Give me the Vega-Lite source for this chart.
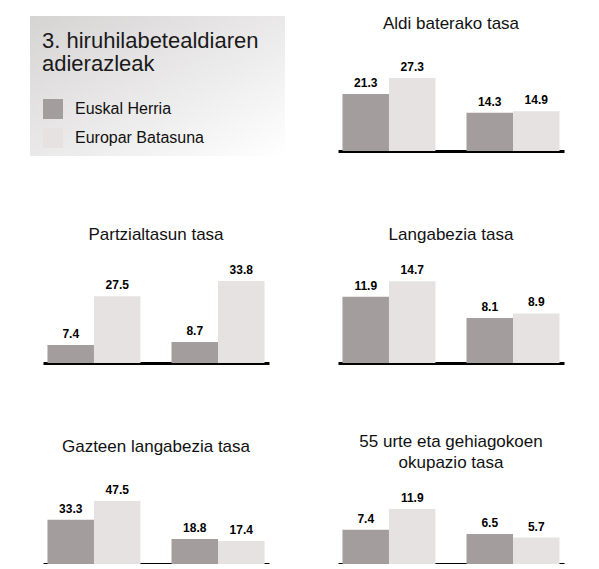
{
  "$schema": "https://vega.github.io/schema/vega-lite/v6.json",
  "background": "white",
  "padding": {"left": 30, "top": 15, "right": 5, "bottom": 0},
  "datasets": {
    "bars": [
      {"ind": "Aldi baterako tasa", "grp": "Gizonak", "ser": "Euskal Herria", "v": 21.3},
      {"ind": "Aldi baterako tasa", "grp": "Gizonak", "ser": "Europar Batasuna", "v": 27.3},
      {"ind": "Aldi baterako tasa", "grp": "Emakumeak", "ser": "Euskal Herria", "v": 14.3},
      {"ind": "Aldi baterako tasa", "grp": "Emakumeak", "ser": "Europar Batasuna", "v": 14.9},
      {"ind": "Partzialtasun tasa", "grp": "Gizonak", "ser": "Euskal Herria", "v": 7.4},
      {"ind": "Partzialtasun tasa", "grp": "Gizonak", "ser": "Europar Batasuna", "v": 27.5},
      {"ind": "Partzialtasun tasa", "grp": "Emakumeak", "ser": "Euskal Herria", "v": 8.7},
      {"ind": "Partzialtasun tasa", "grp": "Emakumeak", "ser": "Europar Batasuna", "v": 33.8},
      {"ind": "Langabezia tasa", "grp": "Gizonak", "ser": "Euskal Herria", "v": 11.9},
      {"ind": "Langabezia tasa", "grp": "Gizonak", "ser": "Europar Batasuna", "v": 14.7},
      {"ind": "Langabezia tasa", "grp": "Emakumeak", "ser": "Euskal Herria", "v": 8.1},
      {"ind": "Langabezia tasa", "grp": "Emakumeak", "ser": "Europar Batasuna", "v": 8.9},
      {"ind": "Gazteen langabezia tasa", "grp": "Gizonak", "ser": "Euskal Herria", "v": 33.3},
      {"ind": "Gazteen langabezia tasa", "grp": "Gizonak", "ser": "Europar Batasuna", "v": 47.5},
      {"ind": "Gazteen langabezia tasa", "grp": "Emakumeak", "ser": "Euskal Herria", "v": 18.8},
      {"ind": "Gazteen langabezia tasa", "grp": "Emakumeak", "ser": "Europar Batasuna", "v": 17.4},
      {"ind": "55 urte eta gehiagokoen okupazio tasa", "grp": "Gizonak", "ser": "Euskal Herria", "v": 7.4},
      {"ind": "55 urte eta gehiagokoen okupazio tasa", "grp": "Gizonak", "ser": "Europar Batasuna", "v": 11.9},
      {"ind": "55 urte eta gehiagokoen okupazio tasa", "grp": "Emakumeak", "ser": "Euskal Herria", "v": 6.5},
      {"ind": "55 urte eta gehiagokoen okupazio tasa", "grp": "Emakumeak", "ser": "Europar Batasuna", "v": 5.7}
    ],
    "titlelines": [
      {"k": "t1", "label": "3. hiruhilabetealdiaren"},
      {"k": "t2", "label": "adierazleak"}
    ],
    "legendrows": [
      {"k": "l1", "label": "Euskal Herria"},
      {"k": "l2", "label": "Europar Batasuna"}
    ],
    "box": [{"part": "background"}]
  },
  "data": {"name": "bars"},
  "config": {
    "view": {"stroke": null},
    "font": "Liberation Sans",
    "title": {"fontSize": 17, "fontWeight": "normal", "offset": 11, "color": "#111111", "font": "Liberation Sans"}
  },
  "spacing": 70,
  "align": "none",
  "vconcat": [
    {
      "spacing": 53,
      "align": "none",
      "hconcat": [
        {
          "width": 242,
          "height": 112,
          "resolve": {"scale": {"x": "independent", "y": "independent"}},
          "layer": [
            {
              "data": {"name": "box"},
              "mark": {"type": "rect", "color": {"gradient": "linear", "x1": 0, "y1": 0, "x2": 1, "y2": 1, "stops": [{"offset": 0, "color": "#d6d3d3"}, {"offset": 0.6, "color": "#eeeded"}, {"offset": 1, "color": "#ffffff"}]}},
              "encoding": {
                "x": {"datum": -0.0537, "type": "quantitative", "scale": {"domain": [0, 1], "nice": false, "zero": false}, "axis": null},
                "x2": {"datum": 1},
                "y": {"datum": 0, "type": "quantitative", "scale": {"domain": [0, 1], "nice": false, "zero": false}, "axis": null},
                "y2": {"datum": 1.25}
              }
            },
            {
              "data": {"name": "titlelines"},
              "mark": {"type": "text", "align": "left", "baseline": "middle", "fontSize": 22, "color": "#1a1a1a"},
              "encoding": {
                "x": {"datum": "title", "type": "nominal", "scale": {"type": "point", "padding": 0, "domain": ["title", "swatch", "pad", "label"], "range": [-1, 32]}, "axis": null},
                "y": {"field": "k", "type": "nominal", "scale": {"type": "point", "padding": 0, "domain": ["t1", "t2"], "range": [-3, 20]}, "axis": null},
                "text": {"field": "label"}
              }
            },
            {
              "data": {"name": "legendrows"},
              "mark": {"type": "square", "size": 400, "opacity": 1, "filled": true},
              "encoding": {
                "x": {"datum": "swatch", "type": "nominal", "scale": {"type": "point", "padding": 0, "domain": ["title", "swatch", "pad", "label"], "range": [-1, 32]}, "axis": null},
                "y": {"field": "k", "type": "nominal", "scale": {"type": "point", "padding": 0, "domain": ["l1", "l2"], "range": [65, 94]}, "axis": null},
                "color": {"field": "label", "type": "nominal", "scale": {"domain": ["Euskal Herria", "Europar Batasuna"], "range": ["#a49d9d", "#e6e2e2"]}, "legend": null}
              }
            },
            {
              "data": {"name": "legendrows"},
              "mark": {"type": "text", "align": "left", "baseline": "middle", "fontSize": 16, "color": "#111111"},
              "encoding": {
                "x": {"datum": "label", "type": "nominal", "scale": {"type": "point", "padding": 0, "domain": ["title", "swatch", "pad", "label"], "range": [-1, 32]}, "axis": null},
                "y": {"field": "k", "type": "nominal", "scale": {"type": "point", "padding": 0, "domain": ["l1", "l2"], "range": [65, 94]}, "axis": null},
                "text": {"field": "label"}
              }
            }
          ]
        },
        {
          "title": {"text": "Aldi baterako tasa"},
          "width": 226,
          "height": 107,
          "transform": [{"filter": "datum.ind === 'Aldi baterako tasa'"}],
          "encoding": {
            "x": {"field": "grp", "type": "nominal", "sort": ["Gizonak", "Emakumeak"], "scale": {"paddingInner": 0.25, "paddingOuter": 0.036}, "axis": {"title": null, "labels": false, "ticks": false, "domainColor": "#000000", "domainWidth": 3}},
            "xOffset": {"field": "ser", "type": "nominal", "sort": ["Euskal Herria", "Europar Batasuna"], "scale": {"paddingInner": 0, "paddingOuter": 0}},
            "y": {"field": "v", "type": "quantitative", "scale": {"domain": [0, 40], "nice": false}, "axis": null}
          },
          "layer": [
            {"mark": {"type": "bar"}, "encoding": {"color": {"field": "ser", "type": "nominal", "scale": {"domain": ["Euskal Herria", "Europar Batasuna"], "range": ["#a59e9e", "#ebe7e7"]}, "legend": null}}},
            {"mark": {"type": "text", "baseline": "bottom", "dy": -4, "fontWeight": "bold", "fontSize": 12, "color": "#000000"}, "encoding": {"text": {"field": "v", "type": "quantitative", "format": ".1f"}}}
          ]
        }
      ]
    },
    {
      "spacing": 69,
      "align": "none",
      "hconcat": [
        {
          "title": {"text": "Partzialtasun tasa"},
          "width": 226,
          "height": 108,
          "transform": [{"filter": "datum.ind === 'Partzialtasun tasa'"}],
          "encoding": {
            "x": {"field": "grp", "type": "nominal", "sort": ["Gizonak", "Emakumeak"], "scale": {"paddingInner": 0.25, "paddingOuter": 0.036}, "axis": {"title": null, "labels": false, "ticks": false, "domainColor": "#000000", "domainWidth": 3}},
            "xOffset": {"field": "ser", "type": "nominal", "sort": ["Euskal Herria", "Europar Batasuna"], "scale": {"paddingInner": 0, "paddingOuter": 0}},
            "y": {"field": "v", "type": "quantitative", "scale": {"domain": [0, 44.5], "nice": false}, "axis": null}
          },
          "layer": [
            {"mark": {"type": "bar"}, "encoding": {"color": {"field": "ser", "type": "nominal", "scale": {"domain": ["Euskal Herria", "Europar Batasuna"], "range": ["#a59e9e", "#ebe7e7"]}, "legend": null}}},
            {"mark": {"type": "text", "baseline": "bottom", "dy": -4, "fontWeight": "bold", "fontSize": 12, "color": "#000000"}, "encoding": {"text": {"field": "v", "type": "quantitative", "format": ".1f"}}}
          ]
        },
        {
          "title": {"text": "Langabezia tasa"},
          "width": 226,
          "height": 108,
          "transform": [{"filter": "datum.ind === 'Langabezia tasa'"}],
          "encoding": {
            "x": {"field": "grp", "type": "nominal", "sort": ["Gizonak", "Emakumeak"], "scale": {"paddingInner": 0.25, "paddingOuter": 0.036}, "axis": {"title": null, "labels": false, "ticks": false, "domainColor": "#000000", "domainWidth": 3}},
            "xOffset": {"field": "ser", "type": "nominal", "sort": ["Euskal Herria", "Europar Batasuna"], "scale": {"paddingInner": 0, "paddingOuter": 0}},
            "y": {"field": "v", "type": "quantitative", "scale": {"domain": [0, 19.4], "nice": false}, "axis": null}
          },
          "layer": [
            {"mark": {"type": "bar"}, "encoding": {"color": {"field": "ser", "type": "nominal", "scale": {"domain": ["Euskal Herria", "Europar Batasuna"], "range": ["#a59e9e", "#ebe7e7"]}, "legend": null}}},
            {"mark": {"type": "text", "baseline": "bottom", "dy": -4, "fontWeight": "bold", "fontSize": 12, "color": "#000000"}, "encoding": {"text": {"field": "v", "type": "quantitative", "format": ".1f"}}}
          ]
        }
      ]
    },
    {
      "spacing": 69,
      "align": "none",
      "hconcat": [
        {
          "title": {"text": "Gazteen langabezia tasa", "offset": 27},
          "width": 226,
          "height": 81,
          "transform": [{"filter": "datum.ind === 'Gazteen langabezia tasa'"}],
          "encoding": {
            "x": {"field": "grp", "type": "nominal", "sort": ["Gizonak", "Emakumeak"], "scale": {"paddingInner": 0.25, "paddingOuter": 0.036}, "axis": {"title": null, "labels": false, "ticks": false, "domainColor": "#000000", "domainWidth": 3}},
            "xOffset": {"field": "ser", "type": "nominal", "sort": ["Euskal Herria", "Europar Batasuna"], "scale": {"paddingInner": 0, "paddingOuter": 0}},
            "y": {"field": "v", "type": "quantitative", "scale": {"domain": [0, 61.1], "nice": false}, "axis": null}
          },
          "layer": [
            {"mark": {"type": "bar"}, "encoding": {"color": {"field": "ser", "type": "nominal", "scale": {"domain": ["Euskal Herria", "Europar Batasuna"], "range": ["#a59e9e", "#ebe7e7"]}, "legend": null}}},
            {"mark": {"type": "text", "baseline": "bottom", "dy": -4, "fontWeight": "bold", "fontSize": 12, "color": "#000000"}, "encoding": {"text": {"field": "v", "type": "quantitative", "format": ".1f"}}}
          ]
        },
        {
          "title": {"text": ["55 urte eta gehiagokoen", "okupazio tasa"], "lineHeight": 21},
          "width": 226,
          "height": 81,
          "transform": [{"filter": "datum.ind === '55 urte eta gehiagokoen okupazio tasa'"}],
          "encoding": {
            "x": {"field": "grp", "type": "nominal", "sort": ["Gizonak", "Emakumeak"], "scale": {"paddingInner": 0.25, "paddingOuter": 0.036}, "axis": {"title": null, "labels": false, "ticks": false, "domainColor": "#000000", "domainWidth": 3}},
            "xOffset": {"field": "ser", "type": "nominal", "sort": ["Euskal Herria", "Europar Batasuna"], "scale": {"paddingInner": 0, "paddingOuter": 0}},
            "y": {"field": "v", "type": "quantitative", "scale": {"domain": [0, 17.5], "nice": false}, "axis": null}
          },
          "layer": [
            {"mark": {"type": "bar"}, "encoding": {"color": {"field": "ser", "type": "nominal", "scale": {"domain": ["Euskal Herria", "Europar Batasuna"], "range": ["#a59e9e", "#ebe7e7"]}, "legend": null}}},
            {"mark": {"type": "text", "baseline": "bottom", "dy": -4, "fontWeight": "bold", "fontSize": 12, "color": "#000000"}, "encoding": {"text": {"field": "v", "type": "quantitative", "format": ".1f"}}}
          ]
        }
      ]
    }
  ]
}
